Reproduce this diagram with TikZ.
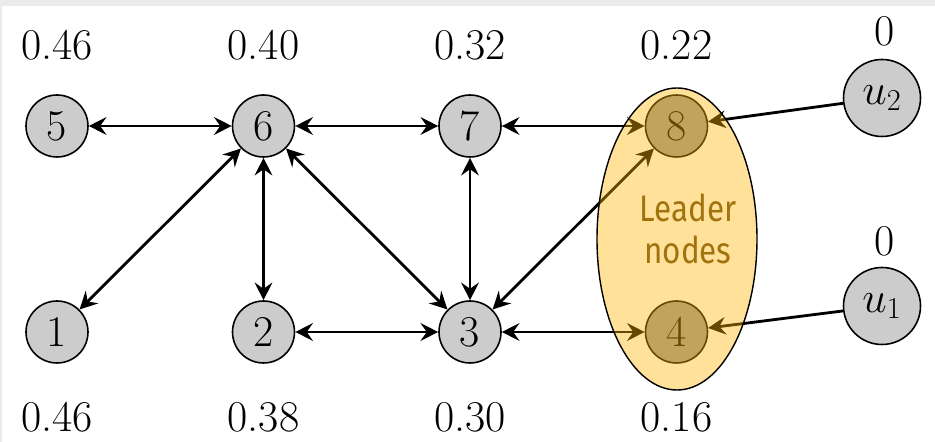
\documentclass[tikz,border=0pt]{standalone}
\usepackage{fontspec}
\newfontfamily\leaderfont[FakeStretch=0.85]{Fira Sans}
\usetikzlibrary{arrows.meta, shapes.geometric}

\definecolor{leaderfill}{RGB}{255,180,0}
\definecolor{leadertext}{RGB}{160,115,15}

\begin{document}
\begin{tikzpicture}[font=\fontsize{25}{30}\selectfont,
			vertex/.style={circle, draw, fill=black!20, line width=0.9pt, minimum size=1.24cm, inner sep=0pt},
			leader/.style={vertex, fill=black!40},
			source/.style={vertex, minimum size=1.54cm},
			weight/.style={inner sep=0pt},
			link/.style={line width=1.6pt, {Stealth[length=10pt, width=10pt, inset=3.5pt]}-{Stealth[length=10pt, width=10pt, inset=3.5pt]}},
			feed/.style={line width=1.6pt, -{Stealth[length=10pt, width=10pt, inset=3.5pt]}},
			group/.style={ellipse, draw, line width=0.8pt, fill=leaderfill, fill opacity=0.4, draw opacity=1, minimum width=3.2cm, minimum height=6.04cm}]

		% frame
		\fill[black!8] (-1.14,-2.2) rectangle (17.56,6.64);
		\fill[white] (-1.10,-2.2) rectangle (17.56,6.52);

		\node[vertex] (1) at (0, 0) {1};
		\node[vertex] (2) at (4.13, 0) {2};
		\node[vertex] (3) at (8.26, 0) {3};
		\node[leader] (4) at (12.39, 0) {4};
		\node[vertex] (5) at (0, 4.12) {5};
		\node[vertex] (6) at (4.13, 4.12) {6};
		\node[vertex] (7) at (8.26, 4.12) {7};
		\node[leader] (8) at (12.39, 4.12) {8};
		\node[source] (u1) at (16.5, 0.52) {$u_1$};
		\node[source] (u2) at (16.5, 4.68) {$u_2$};

		% weights
		\node[weight] (w5) at (0, 5.74) {0.46};
		\node[weight] (w6) at (4.13, 5.74) {0.40};
		\node[weight] (w7) at (8.26, 5.74) {0.32};
		\node[weight] (w8) at (12.39, 5.74) {0.22};
		\node[weight] (w1) at (0, -1.7) {0.46};
		\node[weight] (w2) at (4.13, -1.7) {0.38};
		\node[weight] (w3) at (8.26, -1.7) {0.30};
		\node[weight] (w4) at (12.39, -1.7) {0.16};
		\node[weight] (wu2) at (16.56, 6.02) {0};
		\node[weight] (wu1) at (16.56, 1.82) {0};

		\draw[link] (5) -- (6);
		\draw[link] (6) -- (7);
		\draw[link] (7) -- (8);
		\draw[link] (6) -- (1);
		\draw[link] (6) -- (2);
		\draw[link] (6) -- (3);
		\draw[link] (7) -- (3);
		\draw[link] (8) -- (3);
		\draw[link] (2) -- (3);
		\draw[link] (3) -- (4);
		\draw[feed] (u2) -- (8);
		\draw[feed] (u1) -- (4);

		% leader group on top
		\node[group] (leaders) at (12.4, 1.86) {};
		\node[text=leadertext, align=center, font=\leaderfont\fontsize{21}{24}\selectfont] (caption) at (12.62, 2.06) {Leader\\nodes};
	\end{tikzpicture}
\end{document}
